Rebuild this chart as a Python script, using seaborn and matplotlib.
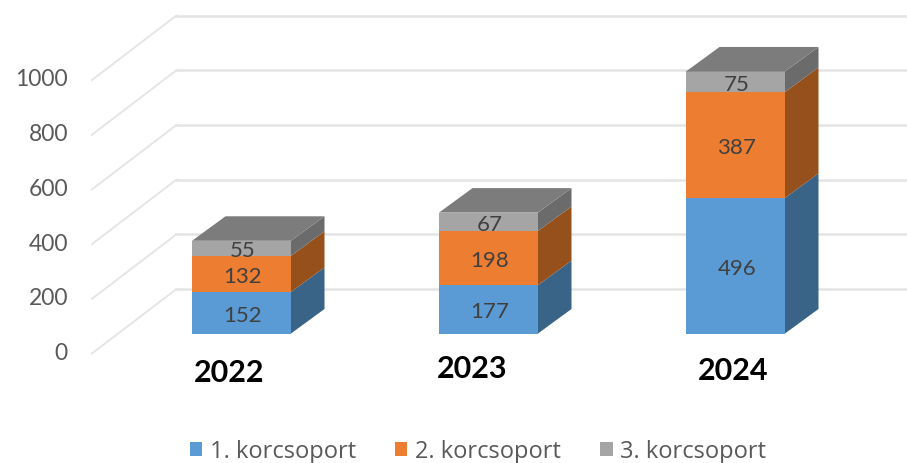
import matplotlib
matplotlib.use('Agg')
import matplotlib.pyplot as plt
import seaborn as sns
from matplotlib.patches import Polygon, Patch

years = ['2022', '2023', '2024']
group_names = ['1. korcsoport', '2. korcsoport', '3. korcsoport']
group1 = [152, 177, 496]
group2 = [132, 198, 387]
group3 = [55, 67, 75]
y_ticks = [0, 200, 400, 600, 800, 1000]

front_colors = ['#5B9BD5', '#ED7D31', '#A5A5A5']
side_colors = ['#3A6487', '#96501C', '#6B6B6B']
top_color = '#7C7C7C'
grid_color = '#E4E4E4'
text_color = '#595959'

W, H = 907, 464
plt.rcParams['font.family'] = ['Lato', 'DejaVu Sans']

fig = plt.figure(figsize=(W / 100, H / 100), dpi=100)
ax = fig.add_axes([0, 0, 1, 1])

# scale: category step 247 px, 0.2735 px per unit, zero of the bars at y=333 px
px_x = 1 / 247
px_y = 1 / 0.2735

bar_width = 99 * px_x
depth_x = 33.5 * px_x
depth_y = 24.5 * px_y

# 3d box walls: back wall lines and the diagonals on the left wall
wall_front = (92 - 241.5) * px_x
wall_back = (176.5 - 241.5) * px_x
front_drop = 20 * px_y
back_rise = 44.5 * px_y
for v in y_ticks:
    ax.plot([wall_front, wall_back], [v - front_drop, v + back_rise],
            color=grid_color, lw=1.3, zorder=1)
    ax.plot([wall_back, (W - 241.5) * px_x], [v + back_rise, v + back_rise],
            color=grid_color, lw=1.8, zorder=1)
    ax.text((68 - 241.5) * px_x, v - 19 * px_y, str(v), ha='right', va='center',
            fontsize=16.5, color=text_color, zorder=5)

# stacked bars
bottom = [0, 0, 0]
series = [group1, group2, group3]
for name, vals, col, side in zip(group_names, series, front_colors, side_colors):
    sns.barplot(x=years, y=vals, bottom=bottom, width=bar_width, color=col,
                saturation=1, ax=ax, zorder=3)
    for i, (b, v) in enumerate(zip(bottom, vals)):
        xr = i + bar_width / 2
        ax.add_patch(Polygon([(xr, b), (xr + depth_x, b + depth_y),
                              (xr + depth_x, b + v + depth_y), (xr, b + v)],
                             facecolor=side, edgecolor='none', zorder=3))
        ax.text(i + 0.005, b + v / 2 - 2 * px_y, str(v), ha='center', va='center',
                fontsize=16, color='#404040', zorder=5)
    bottom = [b + v for b, v in zip(bottom, vals)]

# top faces
for i, t in enumerate(bottom):
    xl = i - bar_width / 2
    xr = i + bar_width / 2
    ax.add_patch(Polygon([(xl, t), (xr, t), (xr + depth_x, t + depth_y),
                          (xl + depth_x, t + depth_y)],
                         facecolor=top_color, edgecolor='none', zorder=4))

# year labels sit a bit unevenly in the original
year_dx = [-12, -16, -2]
year_dy = [-39, -35, -37]
for i, y in enumerate(years):
    ax.text(i + year_dx[i] * px_x, year_dy[i] * px_y, y, ha='center', va='center',
            fontsize=22, fontweight='bold', color='black', zorder=5)

# barplot resets the limits, so set them last (1.5 px lower than first guess)
ax.set_xlim(-241.5 * px_x, (W - 241.5) * px_x)
ax.set_ylim(-(H - 334.5) * px_y, 334.5 * px_y)
ax.set_axis_off()

handles = [Patch(facecolor=c, edgecolor='none') for c in front_colors]
fig.legend(handles, group_names, loc='center', bbox_to_anchor=(0.527, 0.0255),
           ncol=3, frameon=False, prop={'family': 'Open Sans', 'size': 17}, labelcolor=text_color,
           handlelength=0.52, handleheight=0.52, handletextpad=0.32, columnspacing=1.67)

fig.savefig('out.png', dpi=100)
